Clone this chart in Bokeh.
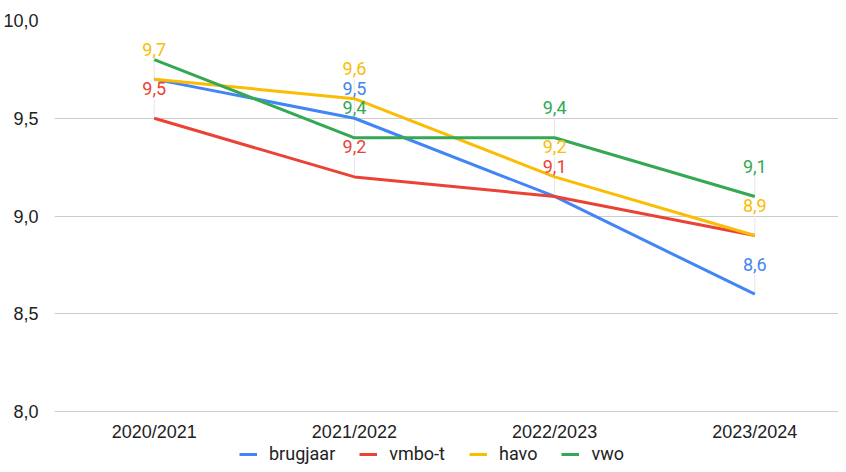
from bokeh.plotting import figure
from bokeh.models import Legend, LegendItem, FixedTicker
from bokeh.embed import file_html
from bokeh.resources import INLINE
from bokeh.core.properties import value

categories = ["2020/2021", "2021/2022", "2022/2023", "2023/2024"]
series_names = ["brugjaar", "vmbo-t", "havo", "vwo"]
brugjaar = [9.7, 9.5, 9.1, 8.6]
vmbo_t = [9.5, 9.2, 9.1, 8.9]
havo = [9.7, 9.6, 9.2, 8.9]
vwo = [9.8, 9.4, 9.4, 9.1]
# which data labels are visible in the reference
brugjaar_labels = [False, True, False, True]
vmbo_t_labels = [True, True, True, False]
havo_labels = [True, True, True, True]
vwo_labels = [False, True, True, True]
y_ticks = [8.0, 8.5, 9.0, 9.5, 10.0]
y_tick_labels = ["8,0", "8,5", "9,0", "9,5", "10,0"]
colors = ["#4285F4", "#EA4335", "#FBBC04", "#34A853"]

all_values = [brugjaar, vmbo_t, havo, vwo]
all_labels = [brugjaar_labels, vmbo_t_labels, havo_labels, vwo_labels]

W, H = 838, 464
p = figure(width=W, height=H, output_backend="svg", toolbar_location=None,
           x_range=(-0.498, 3.418), y_range=(7.729, 10.0),
           min_border_left=52, min_border_right=0, min_border_top=20, min_border_bottom=0)
p.outline_line_color = None
p.xgrid.grid_line_color = None
p.ygrid.grid_line_color = "#cccccc"
p.ygrid.grid_line_width = 1

xs = list(range(len(categories)))
p.xaxis.ticker = FixedTicker(ticks=xs)
p.xaxis.major_label_overrides = {i: c for i, c in zip(xs, categories)}
p.xaxis.fixed_location = y_ticks[0]
p.yaxis.ticker = FixedTicker(ticks=y_ticks)
p.yaxis.major_label_overrides = {t: l for t, l in zip(y_ticks, y_tick_labels)}
for ax in (p.xaxis[0], p.yaxis[0]):
    ax.axis_line_color = None
    ax.major_tick_line_color = None
    ax.minor_tick_line_color = None
    ax.major_label_text_font = "Liberation Sans"
    ax.major_label_text_font_size = "18px"
    ax.major_label_text_color = "#222222"
p.xaxis.major_label_standoff = 4
p.yaxis.major_label_standoff = 10

# stems (drawn first, beneath lines)
for vals, flags in zip(all_values, all_labels):
    sx = [x for x, f in zip(xs, flags) if f]
    sy = [v for v, f in zip(vals, flags) if f]
    p.segment(x0=sx, y0=sy, x1=sx, y1=[v + 0.1 for v in sy], line_color="#e6e6e6", line_width=1)

renderers = []
for name, vals, col in zip(series_names, all_values, colors):
    r = p.line(xs, vals, line_color=col, line_width=3)
    renderers.append(r)

for vals, flags, col in zip(all_values, all_labels, colors):
    lx = [x for x, f in zip(xs, flags) if f]
    ly = [v for v, f in zip(vals, flags) if f]
    lt = [("%.1f" % v).replace(".", ",") for v in ly]
    p.text(x=lx, y=ly, text=lt, text_color=col, text_font=value("Roboto"),
           text_font_size="18px", text_align="center", text_baseline="middle", y_offset=-30)

legend = Legend(items=[LegendItem(label=n, renderers=[r]) for n, r in zip(series_names, renderers)],
                orientation="horizontal", location=(185, 0))
legend.border_line_color = None
legend.background_fill_alpha = 0
legend.padding = 0
legend.margin = 0
legend.spacing = 24
legend.glyph_width = 18
legend.glyph_height = 16
legend.label_height = 16
legend.label_standoff = 12
legend.label_text_font = "Roboto"
legend.label_text_font_size = "18px"
legend.label_text_color = "#222222"
p.add_layout(legend, "center")

open("out.html", "w").write(file_html(p, INLINE))
